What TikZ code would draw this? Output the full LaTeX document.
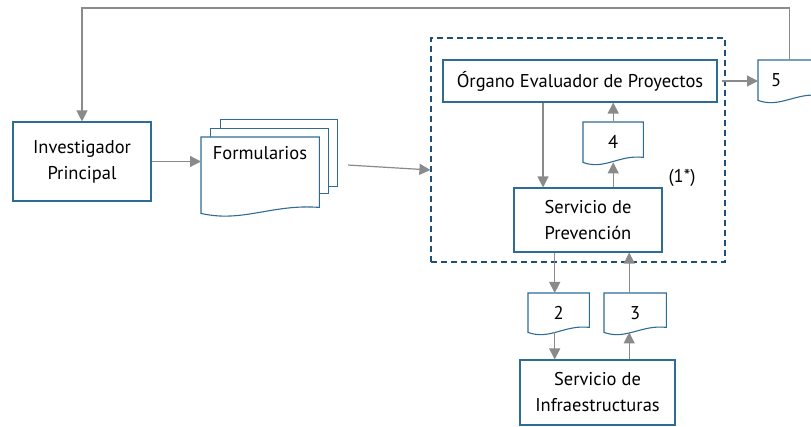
\documentclass[tikz,border=0pt]{standalone}
\usepackage{fontspec}
\setmainfont{PT Sans}
\usetikzlibrary{arrows.meta,calc}

\definecolor{boxblue}{HTML}{2E6C96}
\definecolor{dashblue}{HTML}{1F4E79}
\definecolor{arrgray}{HTML}{8A8A8A}

\tikzset{
  box/.style={draw=boxblue, line width=1.1pt, fill=white, align=center, inner sep=2pt,
    font=\fontsize{18.5}{26}\selectfont},
  docu/.style={inner sep=0pt, font=\fontsize{18.5}{26}\selectfont},
  docline/.style={draw=boxblue, line width=1.1pt},
  arr/.style={draw=arrgray, line width=1.2pt, -{Triangle[length=11pt,width=11pt]}},
}

% wavy document outline round a node: #2 = node, #3 = wave height
\newcommand{\docwave}[3][]{%
  \draw[docline,#1] (#2.north west) -- (#2.north east) -- ([yshift=#3]#2.south east)
    .. controls ($(#2.south west)!0.6!(#2.south east)+(0pt,1.6*#3)$)
    and ($(#2.south west)!0.35!(#2.south east)+(0pt,-1.6*#3)$) .. (#2.south west) -- cycle;}

\begin{document}
\begin{tikzpicture}[x=1pt,y=-1pt]
  \clip (0,0) rectangle (811,427);

  % Investigador box
  \node[box, minimum width=138pt, minimum height=79pt] (inv) at (82,161.5) {Investigador\\Principal};

  % Formularios: stacked documents
  \node[box, minimum width=117pt, minimum height=67pt, anchor=north west] (formc) at (220,119) {};
  \node[box, minimum width=118pt, minimum height=65pt, anchor=north west] (formb) at (210,128) {};
  \node[docu, minimum width=118pt, minimum height=76pt, anchor=north west] (form) at (201,137) {};
  \docwave[fill=white]{form}{6pt}
  \node[docu] (formtxt) at (260,153) {Formularios};

  % Dashed frame
  \node[draw=dashblue, line width=1.2pt, dash pattern=on 6pt off 4pt, minimum width=294pt,
    minimum height=224pt] (frame) at (578,150) {};

  % Organo, Servicio de Prevencion, Servicio de Infraestructuras
  \node[box, minimum width=274pt, minimum height=42pt] (org) at (580,81) {Órgano Evaluador de Proyectos};
  \node[box, minimum width=148pt, minimum height=64pt] (prev) at (588,220) {Servicio de\\Prevención};
  \node[box, minimum width=155pt, minimum height=65pt] (inf) at (597.5,392.5) {Servicio de\\Infraestructuras};

  % Documents 2 to 5
  \node[docu, minimum width=61pt, minimum height=39pt, anchor=north west] (d2) at (528,293) {2};
  \docwave{d2}{5pt}
  \node[docu, minimum width=62pt, minimum height=39pt, anchor=north west] (d3) at (604,293) {3};
  \docwave{d3}{5pt}
  \node[docu, minimum width=60pt, minimum height=40pt, anchor=north west] (d4) at (583,122) {4};
  \docwave{d4}{5pt}
  \node[docu, minimum width=62pt, minimum height=40pt, anchor=north west, text width=36pt,
    align=left, inner xsep=13pt] (d5) at (758,60) {5};
  \docwave{d5}{5pt}

  \node[docu] (note) at (682,178) {(1*)};

  % Connectors
  \coordinate (top) at (0,8);
  \draw[arr] (d5.north) -- (d5.north |- top) -| (inv.north);
  \draw[arr] (inv.east) -- (inv.east -| form.west);
  \draw[arr] ([xshift=10pt,yshift=-12pt]formc.east) -- ([yshift=-20pt]frame.west);
  \draw[arr] ([xshift=4pt]org.east) -- (org.east -| d5.west);
  \draw[arr] ([xshift=-37pt]org.south) -- ([xshift=-37pt]org.south |- prev.north);
  \draw[arr] (d4.south |- prev.north) -- (d4.south);
  \draw[arr] (d4.north) -- (d4.north |- org.south);
  \draw[arr] ([xshift=-4pt]d2.north |- prev.south) -- ([xshift=-4pt]d2.north);
  \draw[arr] ([xshift=-4pt]d2.south) -- ([xshift=-4pt]d2.south |- inf.north);
  \draw[arr] ([xshift=-6pt]d3.south |- inf.north) -- ([xshift=-6pt]d3.south);
  \draw[arr] ([xshift=-6pt]d3.north) -- ([xshift=-6pt]d3.north |- prev.south);
\end{tikzpicture}
\end{document}
